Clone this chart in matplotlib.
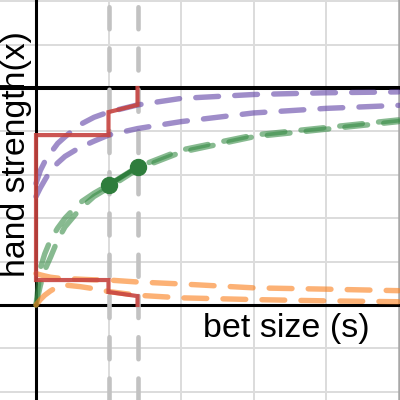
import matplotlib
matplotlib.use("Agg")
import matplotlib.pyplot as plt

# ---- data ----
s_pts = [0.0, 0.03, 0.06, 0.1, 0.15, 0.2, 0.3, 0.4, 0.5, 0.7, 1.0, 1.5, 2.0, 2.5]

purple_upper = [0.56, 0.62, 0.66, 0.70, 0.745, 0.775, 0.83, 0.865, 0.889, 0.922, 0.952, 0.970, 0.978, 0.982]
purple_lower = [0.50, 0.54, 0.575, 0.62, 0.655, 0.685, 0.725, 0.755, 0.783, 0.813, 0.845, 0.885, 0.906, 0.920]

green_a = [0.0, 0.17, 0.235, 0.30, 0.355, 0.40, 0.47, 0.515, 0.553, 0.636, 0.714, 0.783, 0.818, 0.853]
green_b = [0.0, 0.09, 0.16, 0.22, 0.30, 0.36, 0.44, 0.50, 0.54, 0.626, 0.704, 0.775, 0.810, 0.845]

orange_upper = [0.145, 0.139, 0.134, 0.128, 0.124, 0.122, 0.119, 0.116, 0.115, 0.106, 0.097, 0.079, 0.073, 0.066]
orange_lower = [0.0, 0.025, 0.045, 0.065, 0.085, 0.092, 0.085, 0.075, 0.062, 0.045, 0.033, 0.025, 0.019, 0.015]

# step (red) path
red_s = [0.7, 0.7, 0.5, 0.5, 0.0, 0.0, 0.5, 0.5, 0.7, 0.7]
red_x = [1.0, 0.922, 0.889, 0.783, 0.783, 0.115, 0.115, 0.060, 0.041, 0.0]

# green dots
dot_s = [0.5, 0.7]
dot_x = [0.553, 0.636]

# reference bet sizes (gray dashed)
bet_sizes = [0.5, 0.7]

grid_s = [0.5, 1.0, 1.5, 2.0]
grid_x = [-0.4, -0.2, 0.2, 0.4, 0.6, 0.8, 1.2, 1.4]

xlabel = "bet size (s)"
ylabel = "hand strength(x)"

# ---- colours ----
RED = "#c74440"
GREEN = "#388c46"
PURPLE = "#6042a6"
ORANGE = "#fa7e19"

fig = plt.figure(figsize=(4, 4), dpi=100)
ax = fig.add_axes([0, 0, 1, 1])
ax.set_xlim(-0.2483, 2.5103)
ax.set_ylim(-0.4378, 1.4055)
ax.axis("off")

# grid
for g in grid_s:
    ax.axvline(g, color="#dcdcdc", lw=1.4, zorder=1)
for g in grid_x:
    ax.axhline(g, color="#dcdcdc", lw=1.4, zorder=1)
ax.axvline(2.5, color="#a8a8a8", lw=1.8, zorder=1)

# labels
ax.text(1.150, -0.149, xlabel, fontsize=24.5, family=["Liberation Sans", "DejaVu Sans"],
        ha="left", va="baseline", zorder=2)
ax.text(-0.074, 0.128, ylabel, fontsize=24.3, family=["Liberation Sans", "DejaVu Sans"],
        rotation=90, rotation_mode="anchor", ha="left", va="baseline", zorder=2)

# axes
ax.axvline(0, color="black", lw=2.2, zorder=3)
ax.axhline(0, color="black", lw=2.2, zorder=3)
ax.axhline(1, color="black", lw=2.9, zorder=3)

# gray dashed bet-size lines
for b in bet_sizes:
    ax.axvline(b, color="#c2c2c2", lw=3.3, ls=(0, (4.8, 4.2)), dash_capstyle="round", zorder=4)

dash = (0, (4.2, 3.0))
kw = dict(lw=3.9, ls=dash, dash_capstyle="round", alpha=0.6, zorder=5)
ax.plot(s_pts, purple_upper, color=PURPLE, **kw)
ax.plot(s_pts, purple_lower, color=PURPLE, **kw)
ax.plot(s_pts, green_a, color=GREEN, **kw)
ax.plot(s_pts, green_b, color=GREEN, **kw)
ax.plot(s_pts, orange_upper, color=ORANGE, **kw)
ax.plot(s_pts, orange_lower, color=ORANGE, **kw)

# red step line
ax.plot(red_s, red_x, color=RED, lw=3.0, alpha=0.9, solid_joinstyle="miter", zorder=6)

# green dots
ax.plot(dot_s, dot_x, color="#2e7d3c", lw=3.2, marker="o", ms=11.5, zorder=7)

fig.savefig("out.png", dpi=100)
